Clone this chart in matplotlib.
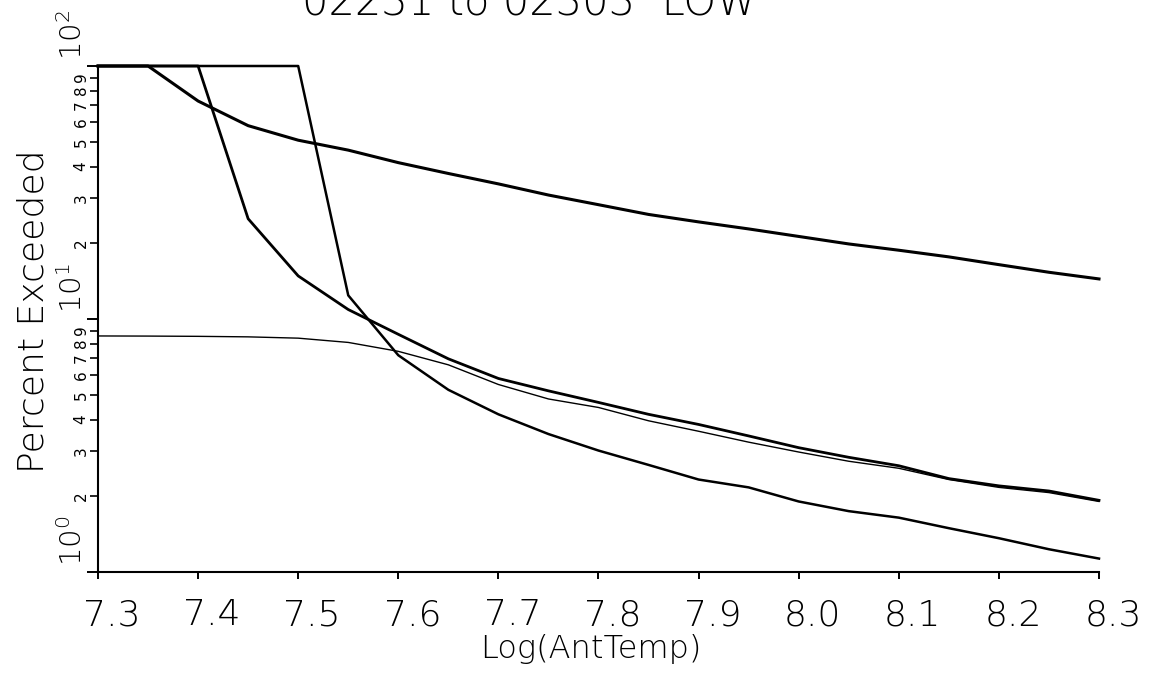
import matplotlib
matplotlib.use('Agg')
import matplotlib.pyplot as plt
from matplotlib.transforms import ScaledTranslation, offset_copy, blended_transform_factory

# data
log_temp = [7.30, 7.35, 7.40, 7.45, 7.50, 7.55, 7.60, 7.65, 7.70, 7.75, 7.80,
            7.85, 7.90, 7.95, 8.00, 8.05, 8.10, 8.15, 8.20, 8.25, 8.30]

pct_a = [100, 100, 72.7, 58.1, 50.9, 46.5, 41.5, 37.6, 34.2, 30.9, 28.3,
         25.9, 24.2, 22.7, 21.2, 19.8, 18.7, 17.6, 16.4, 15.3, 14.4]
pct_b = [100, 100, 100, 24.9, 14.8, 10.9, 8.70, 6.96, 5.82, 5.20, 4.68,
         4.20, 3.83, 3.45, 3.10, 2.84, 2.63, 2.34, 2.19, 2.09, 1.92]
pct_c = [100, 100, 100, 100, 100, 12.4, 7.19, 5.25, 4.20, 3.51, 3.02,
         2.65, 2.32, 2.16, 1.90, 1.74, 1.64, 1.49, 1.36, 1.23, 1.13]
pct_d = [8.57, 8.56, 8.54, 8.50, 8.40, 8.08, 7.45, 6.59, 5.51, 4.83, 4.47,
         3.96, 3.60, 3.26, 2.98, 2.74, 2.57, 2.32, 2.16, 2.06, 1.90]

x_ticks = [7.3, 7.4, 7.5, 7.6, 7.7, 7.8, 7.9, 8.0, 8.1, 8.2, 8.3]
x_tick_labels = ['7.3', '7.4', '7.5', '7.6', '7.7', '7.8', '7.9', '8.0', '8.1', '8.2', '8.3']
decade_vals = [1, 10, 100]
decade_exps = [0, 1, 2]
minor_vals = [2, 3, 4, 5, 6, 7, 8, 9, 20, 30, 40, 50, 60, 70, 80, 90]
minor_labels = ['2', '3', '4', '5', '6', '7', '8', '9'] * 2

title = '02231 to 02303  LOW'

W, H = 1152, 686
plt.rcParams['font.family'] = 'DejaVu Sans'
plt.rcParams['font.weight'] = 'light'
plt.rcParams['axes.labelweight'] = 'light'
plt.rcParams['mathtext.default'] = 'regular'

fig = plt.figure(figsize=(W / 100, H / 100), dpi=100)
ax = fig.add_axes([98 / W, 1 - 572 / H, 1001 / W, 506 / H])

ax.plot(log_temp, pct_a, color='black', lw=2.2, clip_on=False)
ax.plot(log_temp, pct_b, color='black', lw=2.0, clip_on=False)
ax.plot(log_temp, pct_c, color='black', lw=1.8, clip_on=False)
ax.plot(log_temp, pct_d, color='black', lw=1.0, clip_on=False)

ax.set_yscale('log')
ax.set_xlim(7.3, 8.3)
ax.set_ylim(1, 100)

for side in ['top', 'right']:
    ax.spines[side].set_visible(False)
for side in ['left', 'bottom']:
    ax.spines[side].set_linewidth(1.5)

# x axis
ax.set_xticks(x_ticks, labels=x_tick_labels)
ax.tick_params(axis='x', length=5, width=1.4, pad=14, labelsize=26)
shift = ScaledTranslation(14 / 100, 0, fig.dpi_scale_trans)
for lbl in ax.get_xticklabels():
    lbl.set_transform(lbl.get_transform() + shift)

# y axis: plotter style rotated labels
ax.set_yticks(decade_vals, labels=[''] * len(decade_vals))
ax.set_yticks(minor_vals, labels=minor_labels, minor=True,
              rotation=90, va='center', fontsize=11, fontweight='normal')
ax.tick_params(axis='y', which='major', length=8, width=1.4)
ax.tick_params(axis='y', which='minor', length=5.8, width=1.2, pad=1)

base = blended_transform_factory(ax.transAxes, ax.transData)
lab_trans = offset_copy(base, fig=fig, x=-10, y=6, units='dots')
for val, n in zip(decade_vals, decade_exps):
    ax.text(0, val, rf'$10^{{{n}}}$', transform=lab_trans, rotation=90,
            ha='right', va='bottom', fontsize=21, clip_on=False)

ax.set_xlabel('Log(AntTemp)', fontsize=23)
ax.xaxis.set_label_coords(0.4925, -0.122)
ax.set_ylabel('Percent Exceeded', fontsize=26)
ax.yaxis.set_label_coords(-0.047, 0.516)

fig.text(530 / W, 1 - 15 / H, title, ha='center', va='baseline', fontsize=30)

fig.savefig('out.png', dpi=100)
